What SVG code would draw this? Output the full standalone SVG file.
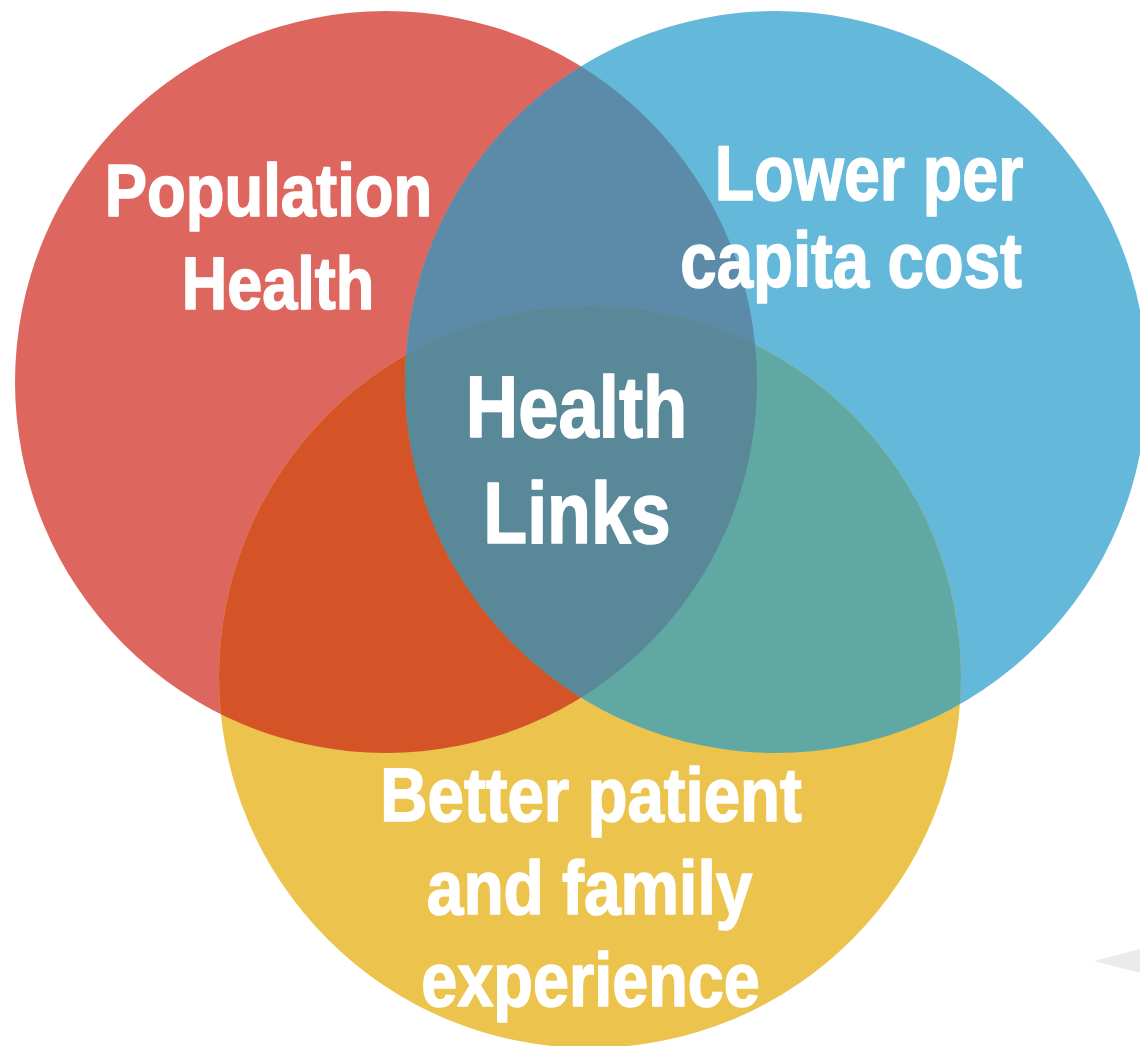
<svg xmlns="http://www.w3.org/2000/svg" width="1140" height="1046" viewBox="0 0 1140 1046">
<style>
.lbl{font-family:"Liberation Sans",Arial,sans-serif;font-weight:bold;fill:#FFFFFF;stroke:#FFFFFF;stroke-width:1.6;stroke-linejoin:round;}
</style>
<defs>
<clipPath id="cRed"><circle cx="386" cy="382" r="371"/></clipPath>
<clipPath id="cBlue"><circle cx="776" cy="382" r="371"/></clipPath>
<clipPath id="cYel"><circle cx="590" cy="677" r="371"/></clipPath>
</defs>
<rect width="1140" height="1046" fill="#FFFFFF"/>
<polygon points="1094,961 1140,949 1140,973" fill="#EBEBEB"/>
<g id="circles">
<circle id="red" cx="386" cy="382" r="371" fill="#DD675F"/>
<circle id="blue" cx="776" cy="382" r="371" fill="#64B8D9"/>
<circle id="yellow" cx="590" cy="677" r="371" fill="#ECC44D"/>
</g>
<g id="overlaps">
<g clip-path="url(#cRed)"><circle cx="776" cy="382" r="371" fill="#5B8BA8"/><circle cx="590" cy="677" r="371" fill="#D45428"/></g>
<g clip-path="url(#cBlue)"><circle cx="590" cy="677" r="371" fill="#60A8A3"/></g>
<g clip-path="url(#cRed)"><g clip-path="url(#cBlue)"><circle cx="590" cy="677" r="371" fill="#598898"/></g></g>
</g>
<g id="population-health">
<text class="lbl" x="104.8" y="215.5" font-size="74" textLength="327.5" lengthAdjust="spacingAndGlyphs">Population</text>
<text class="lbl" x="181.8" y="308.8" font-size="74" textLength="192.5" lengthAdjust="spacingAndGlyphs">Health</text>
</g>
<g id="lower-cost">
<text class="lbl" x="714.8" y="200" font-size="78" textLength="308.5" lengthAdjust="spacingAndGlyphs">Lower per</text>
<text class="lbl" x="680.3" y="286.5" font-size="78" textLength="341.5" lengthAdjust="spacingAndGlyphs">capita cost</text>
</g>
<g id="health-links">
<text class="lbl" x="465.8" y="436.8" font-size="88" textLength="221.5" lengthAdjust="spacingAndGlyphs">Health</text>
<text class="lbl" x="483.3" y="542.8" font-size="88" textLength="187.5" lengthAdjust="spacingAndGlyphs">Links</text>
</g>
<g id="patient-experience">
<text class="lbl" x="380.3" y="821.2" font-size="76" textLength="421.5" lengthAdjust="spacingAndGlyphs">Better patient</text>
<text class="lbl" x="426.8" y="913.5" font-size="76" textLength="325.5" lengthAdjust="spacingAndGlyphs">and family</text>
<text class="lbl" x="421.3" y="1006.2" font-size="76" textLength="338.5" lengthAdjust="spacingAndGlyphs">experience</text>
</g>
</svg>
